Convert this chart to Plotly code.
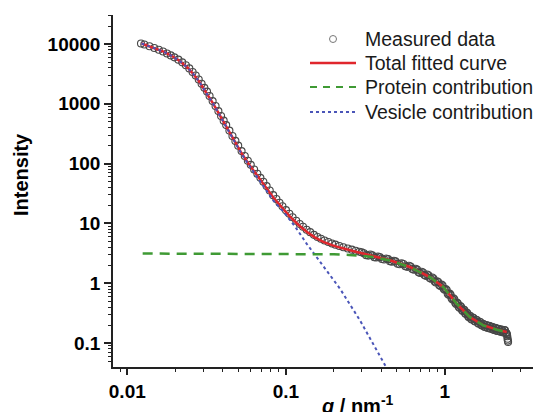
import plotly.graph_objects as go

# ---- data ----
meas_q = [0.0122, 0.0128, 0.0138, 0.0148, 0.0158, 0.0168, 0.0178, 0.0188, 0.0198, 0.0210,
          0.0222, 0.0234, 0.0246, 0.0258, 0.0270, 0.0282, 0.0294, 0.0306, 0.0318, 0.0330,
          0.0345, 0.0360, 0.0375, 0.0390, 0.0405, 0.0420, 0.0440, 0.0460, 0.0480, 0.0500,
          0.0525, 0.0550, 0.0575, 0.0600, 0.0630, 0.0660, 0.0690, 0.0720, 0.0755, 0.0790,
          0.0830, 0.0870, 0.0910, 0.0950, 0.100, 0.105, 0.110, 0.116, 0.122, 0.128,
          0.135, 0.142, 0.150, 0.158, 0.166, 0.175, 0.185, 0.195, 0.205, 0.217,
          0.230, 0.245, 0.260, 0.275, 0.290, 0.310, 0.330, 0.350, 0.370, 0.390,
          0.415, 0.440, 0.465, 0.490, 0.520, 0.550, 0.580, 0.610, 0.640, 0.670,
          0.700, 0.730, 0.760, 0.790, 0.820, 0.850, 0.880, 0.910, 0.940, 0.970,
          1.00, 1.03, 1.06, 1.09, 1.12, 1.15, 1.18, 1.21, 1.24, 1.27,
          1.30, 1.33, 1.36, 1.39, 1.42, 1.45, 1.48, 1.52, 1.56, 1.60,
          1.64, 1.68, 1.72, 1.76, 1.80, 1.84, 1.88, 1.92, 1.96, 2.00,
          2.05, 2.10, 2.15, 2.20, 2.25, 2.30, 2.35, 2.40, 2.45, 2.47,
          2.48, 2.49, 2.50, 2.51,
          0.300, 0.320, 0.340, 0.360, 0.380, 0.402, 0.428, 0.452, 0.478, 0.505,
          0.535, 0.565, 0.595, 0.625, 0.655, 0.685, 0.715, 0.745, 0.775, 0.805,
          0.835, 0.865, 0.895, 0.925, 0.955, 0.985, 1.015, 1.045, 1.075, 1.105,
          1.135, 1.165, 1.195, 1.225, 1.255, 1.285, 1.315, 1.345, 1.375, 1.405,
          1.435, 1.465, 1.50, 1.54, 1.58, 1.62, 1.66, 1.70, 1.74, 1.78,
          1.82, 1.86, 1.90, 1.94, 1.98, 2.025, 2.075, 2.125, 2.175, 2.225,
          2.275, 2.325, 2.375, 2.425]
meas_I = [10200, 9840, 9160, 8590, 8020, 7500, 6950, 6450, 5980, 5480,
          4940, 4420, 3910, 3400, 2970, 2550, 2170, 1850, 1600, 1350,
          1110, 920, 755, 627, 523, 441, 357, 289, 240, 200,
          162, 134, 112, 95.5, 80, 67.7, 57.9, 49.8, 42.1, 35.5,
          29.7, 25.6, 22.2, 19.4, 16.7, 14.5, 12.7, 11.1, 9.8, 8.8,
          7.85, 7.15, 6.45, 5.95, 5.55, 5.2, 4.9, 4.62, 4.42, 4.2,
          4.0, 3.82, 3.65, 3.5, 3.36, 3.18, 2.90, 2.93, 2.70, 2.73,
          2.50, 2.53, 2.30, 2.32, 2.08, 2.10, 1.88, 1.91, 1.68, 1.69,
          1.49, 1.51, 1.33, 1.36, 1.19, 1.20, 1.03, 1.05, 0.90, 0.92,
          0.78, 0.77, 0.64, 0.64, 0.535, 0.54, 0.45, 0.46, 0.39, 0.40,
          0.345, 0.355, 0.305, 0.315, 0.27, 0.283, 0.249, 0.262, 0.229, 0.241,
          0.211, 0.223, 0.196, 0.207, 0.185, 0.199, 0.178, 0.193, 0.173, 0.185,
          0.166, 0.178, 0.159, 0.172, 0.155, 0.167, 0.150, 0.163, 0.147, 0.140,
          0.130, 0.118, 0.110, 0.104,
          3.28, 2.95, 3.02, 2.72, 2.80, 2.54, 2.60, 2.34, 2.38, 2.12,
          2.16, 1.92, 1.96, 1.73, 1.75, 1.53, 1.56, 1.37, 1.40, 1.22,
          1.25, 1.07, 1.08, 0.93, 0.95, 0.81, 0.80, 0.67, 0.67, 0.56,
          0.56, 0.47, 0.475, 0.405, 0.415, 0.357, 0.365, 0.315, 0.323, 0.280,
          0.287, 0.255, 0.266, 0.235, 0.246, 0.216, 0.227, 0.200, 0.210, 0.188,
          0.201, 0.180, 0.194, 0.175, 0.188, 0.168, 0.180, 0.161, 0.174, 0.157,
          0.168, 0.152, 0.165, 0.149]

fit_q = [0.0123, 0.0150, 0.0169, 0.0190, 0.0215, 0.0240, 0.0261, 0.0285, 0.0317, 0.0350,
         0.0384, 0.0420, 0.0466, 0.0520, 0.0579, 0.0686, 0.0760, 0.0832, 0.0950, 0.106,
         0.120, 0.135, 0.152, 0.172, 0.195, 0.219, 0.279, 0.355, 0.452, 0.604,
         0.807, 0.979, 1.19, 1.44, 1.75, 2.13, 2.46]
fit_I = [10200, 8500, 7450, 6350, 5160, 4010, 3130, 2310, 1510, 977,
         634, 412, 253, 156, 101, 55.1, 38.0, 27.2, 18.0, 13.0,
         9.44, 7.28, 5.86, 4.93, 4.35, 3.95, 3.34, 2.83, 2.42, 1.87,
         1.27, 0.867, 0.458, 0.273, 0.199, 0.168, 0.153]

protein_q = [0.0125, 0.05, 0.1, 0.15, 0.2, 0.25, 0.3, 0.355, 0.452, 0.604,
             0.807, 0.979, 1.19, 1.44, 1.75, 2.13, 2.46]
protein_I = [3.14, 3.14, 3.13, 3.10, 3.05, 2.98, 2.90, 2.76, 2.40, 1.86,
             1.27, 0.865, 0.457, 0.272, 0.198, 0.167, 0.152]

vesicle_q = [0.0123, 0.0150, 0.0169, 0.0190, 0.0215, 0.0240, 0.0261, 0.0285, 0.0317, 0.0350,
             0.0384, 0.0420, 0.0466, 0.0520, 0.0579, 0.0686, 0.0760, 0.0832, 0.0962, 0.114,
             0.1348, 0.156, 0.2187, 0.2926, 0.4267, 0.46]
vesicle_I = [10200, 8500, 7450, 6350, 5160, 4010, 3130, 2310, 1510, 974,
             631, 409, 250, 153, 98, 52, 35, 24.2, 15.8, 8.9,
             4.61, 2.7, 0.815, 0.24, 0.0394, 0.028]

x_tickvals = [0.01, 0.1, 1]
x_ticktext = ["0.01", "0.1", "1"]
x_minor = [0.008, 0.009, 0.02, 0.03, 0.04, 0.05, 0.06, 0.07, 0.08, 0.09,
           0.2, 0.3, 0.4, 0.5, 0.6, 0.7, 0.8, 0.9, 2, 3, 4]
y_tickvals = [0.1, 1, 10, 100, 1000, 10000]
y_ticktext = ["0.1", "1", "10", "100", "1000", "10000"]
y_minor = [0.05, 0.06, 0.07, 0.08, 0.09, 0.2, 0.3, 0.4, 0.5, 0.6, 0.7, 0.8, 0.9,
           2, 3, 4, 5, 6, 7, 8, 9, 20, 30, 40, 50, 60, 70, 80, 90,
           200, 300, 400, 500, 600, 700, 800, 900, 2000, 3000, 4000, 5000, 6000,
           7000, 8000, 9000, 20000, 30000]

legend_names = ["Measured data", "Total fitted curve", "Protein contribution", "Vesicle contribution"]

FONT = "Liberation Sans, Arial, sans-serif"
C_MEAS = "#474747"
C_FIT = "#e0262c"
C_PROT = "#3f9a34"
C_VES = "#4a55b8"

# plot area in figure pixels (page is drawn with an 8px body margin)
W, H = 533, 404
ML, MR, MT, MB = 105, 0, 7, 45
PW, PH = W - ML - MR, H - MT - MB


def px(xf):
    return (xf - ML) / PW


def py(yf):
    return 1 - (yf - MT) / PH


fig = go.Figure()
fig.add_trace(go.Scatter(x=meas_q, y=meas_I, mode="markers", name=legend_names[0],
                         marker=dict(symbol="circle-open", size=7, color=C_MEAS,
                                     line=dict(width=1.1, color=C_MEAS))))
fig.add_trace(go.Scatter(x=fit_q, y=fit_I, mode="lines", name=legend_names[1],
                         line=dict(color=C_FIT, width=2.5)))
fig.add_trace(go.Scatter(x=vesicle_q, y=vesicle_I, mode="lines", name=legend_names[3],
                         line=dict(color=C_VES, width=2, dash="3px,3px")))
fig.add_trace(go.Scatter(x=protein_q, y=protein_I, mode="lines", name=legend_names[2],
                         line=dict(color=C_PROT, width=2.5, dash="10px,7px")))
# carrier trace for the minor-tick overlay axes
fig.add_trace(go.Scatter(x=fit_q, y=fit_I, xaxis="x2", yaxis="y2", mode="lines",
                         line=dict(width=0), opacity=0, hoverinfo="skip", showlegend=False))

xr = [-2.09, 0.607]
yr = [-1.40, 4.485]
tickfont = dict(size=19, family=FONT, color="black", weight="bold")

# manual legend (text + samples), placed in paper coordinates
ann = []
shapes = []
rows = [31, 55, 79, 104]
for name, yy in zip(legend_names, rows):
    ann.append(dict(text=name, xref="paper", yref="paper", x=px(355), y=py(yy),
                    xanchor="left", yanchor="middle", showarrow=False,
                    font=dict(size=19.5, family=FONT, color="#1a1a1a")))
shapes.append(dict(type="circle", xref="paper", yref="paper",
                   x0=px(321.5), x1=px(328.5), y0=py(rows[0] + 3.5), y1=py(rows[0] - 3.5),
                   line=dict(color="#777", width=1)))
shapes.append(dict(type="line", xref="paper", yref="paper", x0=px(302), x1=px(348),
                   y0=py(rows[1]), y1=py(rows[1]), line=dict(color=C_FIT, width=2.5)))
shapes.append(dict(type="line", xref="paper", yref="paper", x0=px(302), x1=px(348),
                   y0=py(rows[2]), y1=py(rows[2]), line=dict(color=C_PROT, width=2, dash="7px,6px")))
shapes.append(dict(type="line", xref="paper", yref="paper", x0=px(302), x1=px(348),
                   y0=py(rows[3]), y1=py(rows[3]), line=dict(color=C_VES, width=2, dash="3px,3px")))

ann.append(dict(text="Intensity", textangle=-90, xref="paper", yref="paper",
                x=px(13), y=py(167), xanchor="center", yanchor="middle", showarrow=False,
                font=dict(size=20, family=FONT, color="black", weight="bold")))
ann.append(dict(text="<i>q</i> / nm<sup>-1</sup>", xref="paper", yref="paper",
                x=px(350), y=0, xanchor="center", yanchor="top", yshift=-23, showarrow=False,
                font=dict(size=20, family=FONT, color="black", weight="bold")))

fig.update_layout(
    width=W, height=H,
    margin=dict(l=ML, r=MR, t=MT, b=MB, autoexpand=False),
    paper_bgcolor="white", plot_bgcolor="white",
    font=dict(family=FONT, color="black"),
    showlegend=False,
    xaxis=dict(type="log", range=xr, showgrid=False, zeroline=False, automargin=False,
               showline=True, linecolor="#222", linewidth=1.5,
               ticks="outside", ticklen=6, tickwidth=1.5, tickcolor="#222",
               tickvals=x_tickvals, ticktext=x_ticktext, tickfont=tickfont),
    yaxis=dict(type="log", range=yr, showgrid=False, zeroline=False, automargin=False,
               showline=True, linecolor="#222", linewidth=1.5,
               ticks="outside", ticklen=7, tickwidth=1.5, tickcolor="#222",
               tickvals=y_tickvals, ticktext=y_ticktext, tickfont=tickfont),
    xaxis2=dict(type="log", range=xr, overlaying="x", anchor="y", side="bottom",
                showgrid=False, zeroline=False, showline=False, automargin=False,
                ticks="outside", ticklen=4, tickwidth=1.2, tickcolor="#222",
                tickvals=x_minor, showticklabels=False),
    yaxis2=dict(type="log", range=yr, overlaying="y", anchor="x", side="left",
                showgrid=False, zeroline=False, showline=False, automargin=False,
                ticks="outside", ticklen=4, tickwidth=1.2, tickcolor="#222",
                tickvals=y_minor, showticklabels=False),
    annotations=ann,
    shapes=shapes,
)

fig.write_html("out.html")
